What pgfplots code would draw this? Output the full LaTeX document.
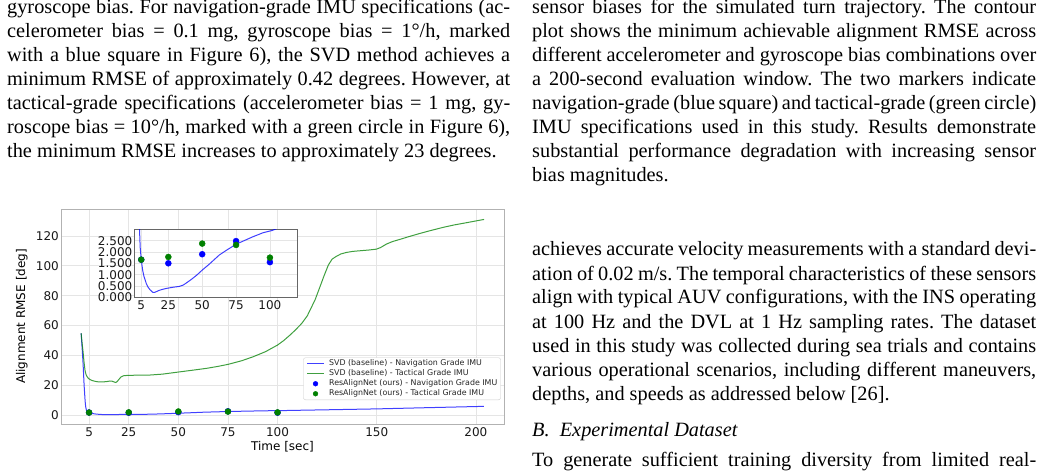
\documentclass[border=0pt]{standalone}
\usepackage{pgfplots}
\pgfplotsset{compat=1.18}
\usepackage{fontspec}
\setmainfont{Liberation Serif}
\newfontfamily\dejavu{DejaVu Sans}
\frenchspacing
\newcommand{\jl}[4]{\node[anchor=base west,inner sep=0pt,font=\fontsize{20.3}{24}\selectfont] at (#1pt,-#2pt) {\makebox[#3pt][s]{#4}};}
\newcommand{\jend}[3]{\node[anchor=base west,inner sep=0pt,font=\fontsize{20.3}{24}\selectfont] at (#1pt,-#2pt) {#3};}
\pgfplotsset{
 lineleg/.style={legend image code/.code={\draw[##1] (0pt,0pt) -- (16.6pt,0pt);}},
 dotleg/.style={legend image code/.code={\draw[mark repeat=2,mark phase=2,##1,mark size=2.4pt] plot coordinates {(0pt,0pt) (8.3pt,0pt) (16.6pt,0pt)};}},
}

\pgfplotstableread{
x y
1 54.8
1.5 45
2 34
2.5 20
3 9.5
3.3 5.5
3.7 3.0
4.2 2.2
5 1.66
6 1.2
7 0.92
8.7 0.61
10 0.45
11.5 0.33
13.5 0.22
15 0.22
16.5 0.26
18 0.3
20 0.34
23.4 0.39
28 0.44
33 0.48
36 0.54
38 0.62
42 0.79
46 0.98
50 1.2
55 1.45
62.5 1.86
68 2.08
75 2.34
81 2.5
87 2.66
95 2.85
101.7 2.95
110 3.15
125 3.5
150 4.1
175 4.9
204 5.8
}\navline

\pgfplotstableread{
x y
1 54.8
1.5 48
2 42
2.5 35
3 29.5
3.5 27
4.2 25.3
5 24.2
6.3 23.2
8 22.6
9.7 22.2
12 22.2
13.9 22.4
15.5 22.8
16.5 22.7
17.5 22.2
18.5 21.8
19.2 22.5
20 23.8
21 25.4
22.3 26.3
24.8 26.6
30 26.7
35.7 26.8
42 27.4
50 28.8
57 30
64.3 31.3
70 32.6
75.2 34
82 36.4
87.8 39.1
94 42.5
100 46.9
103 49.8
106.3 53.6
109 57
112.2 61.4
115 66.5
117.2 72.5
119 77.5
121.4 86
123.5 93.5
125.6 100.5
127.5 104.5
129.8 106.5
132 108
134.8 109
138 109.7
141.5 110.1
146 110.6
149.9 111.2
152 112.3
154.9 114.6
158 116.3
161.6 117.7
166 119.5
171.7 121.7
177 123.6
183.5 125.8
189 127.4
195.2 128.9
200 130.1
204.1 131.1
}\tacline

\pgfplotstableread{
x y
5 1.66
25 1.50
50 1.90
75 2.48
100 1.55
}\navdots

\pgfplotstableread{
x y
5 1.66
25 1.78
50 2.37
75 2.31
100 1.75
}\tacdots

\definecolor{mplgreen}{RGB}{0,128,0}

\begin{document}
\begin{tikzpicture}[x=1pt,y=1pt]
\path[use as bounding box] (0,0) rectangle (1042,-473);
\clip (0,0) rectangle (1042,-473);

% left column text
\jl{7}{14}{503}{gyroscope bias. For navigation-grade IMU specifications (ac-}
\jl{7}{38}{503}{celerometer bias = 0.1 mg, gyroscope bias = 1°/h, marked}
\jl{7}{62}{503}{with a blue square in Figure 6), the SVD method achieves a}
\jl{7}{86}{503}{minimum RMSE of approximately 0.42 degrees. However, at}
\jl{7}{110}{503}{tactical-grade specifications (accelerometer bias = 1 mg, gy-}
\jl{7}{134}{503}{roscope bias = 10°/h, marked with a green circle in Figure 6),}
\jend{7}{158}{the minimum RMSE increases to approximately 23 degrees.}

% right column text
\jl{532}{14}{504}{sensor biases for the simulated turn trajectory. The contour}
\jl{532}{38}{504}{plot shows the minimum achievable alignment RMSE across}
\jl{532}{62}{504}{different accelerometer and gyroscope bias combinations over}
\jl{532}{86}{504}{a 200-second evaluation window. The two markers indicate}
\jl{532}{110}{504}{navigation-grade (blue square) and tactical-grade (green circle)}
\jl{532}{134}{504}{IMU specifications used in this study. Results demonstrate}
\jl{532}{158}{504}{substantial performance degradation with increasing sensor}
\jend{532}{182}{bias magnitudes.}

\jl{532}{256}{504}{achieves accurate velocity measurements with a standard devi-}
\jl{532}{280}{504}{ation of 0.02 m/s. The temporal characteristics of these sensors}
\jl{532}{304}{504}{align with typical AUV configurations, with the INS operating}
\jl{532}{328}{504}{at 100 Hz and the DVL at 1 Hz sampling rates. The dataset}
\jl{532}{352}{504}{used in this study was collected during sea trials and contains}
\jl{532}{376}{504}{various operational scenarios, including different maneuvers,}
\jend{532}{400}{depths, and speeds as addressed below [26].}
\jend{532}{436}{\itshape B.\hspace{0.5em}Experimental Dataset}
\jl{532}{466}{504}{To generate sufficient training diversity from limited real-}

% main axis
\begin{axis}[
  at={(61pt,-424pt)}, anchor=south west,
  scale only axis, width=443pt, height=215pt,
  xmin=-9.15, xmax=214.15, ymin=-6.03, ymax=138.1,
  xtick={5,25,50,75,100,150,200}, ytick={0,20,40,60,80,100,120},
  axis line style={black!30, line width=0.9pt},
  major tick length=0pt,
  grid=major, major grid style={black!10, line width=0.8pt},
  tick label style={font=\dejavu\fontsize{12}{14}\selectfont, text=black!90},
  yticklabel style={inner xsep=2pt},
  /pgf/number format/assume math mode=true,
  xlabel={Time [sec]}, ylabel={Alignment RMSE [deg]},
  label style={font=\dejavu\fontsize{12}{14}\selectfont},
  xlabel style={at={(axis description cs:0.5,-0.1056)}, anchor=center},
  ylabel style={at={(axis description cs:-0.0887,0.5)}, anchor=center},
  legend style={at={(0.9926,0.1116)}, anchor=south east,
    draw=black!20, rounded corners=2pt, fill=white,
    font=\dejavu\fontsize{7.9}{8}\selectfont, text=black!85,
    inner xsep=3.2pt, inner ysep=2.4pt, row sep=2.7pt,
    nodes={inner sep=0pt, text height=5.8pt, text depth=1.5pt},
    /tikz/every odd column/.append style={column sep=4.8pt}},
  legend cell align=left,
]
\addplot[blue, line width=1pt, opacity=0.75, lineleg] table[x=x,y=y] {\navline};
\addlegendentry{SVD (baseline) - Navigation Grade IMU}
\addplot[mplgreen, line width=1pt, opacity=0.75, lineleg] table[x=x,y=y] {\tacline};
\addlegendentry{SVD (baseline) - Tactical Grade IMU}
\addplot[only marks, mark=*, mark size=3pt, blue, mark options={fill=blue, draw=blue}, dotleg] table[x=x,y=y] {\navdots};
\addlegendentry{ResAlignNet (ours) - Navigation Grade IMU}
\addplot[only marks, mark=*, mark size=3pt, mplgreen, mark options={fill=mplgreen, draw=mplgreen}, dotleg] table[x=x,y=y] {\tacdots};
\addlegendentry{ResAlignNet (ours) - Tactical Grade IMU}
\end{axis}

% inset axis
\begin{axis}[
  at={(134.5pt,-297.3pt)}, anchor=south west,
  scale only axis, width=162.5pt, height=68pt,
  xmin=0, xmax=120, ymin=0, ymax=3,
  xtick={5,25,50,75,100}, ytick={0,0.5,1,1.5,2,2.5},
  axis background/.style={fill=white},
  axis line style={black!60, line width=0.9pt},
  major tick length=0pt,
  grid=major, major grid style={black!10, line width=0.8pt},
  tick label style={font=\dejavu\fontsize{12}{14}\selectfont, text=black!90},
  yticklabel style={inner xsep=2pt, /pgf/number format/.cd, fixed, fixed zerofill, precision=3},
  /pgf/number format/assume math mode=true,
]
\addplot[blue, line width=1pt, opacity=0.75] table[x=x,y=y] {\navline};
\addplot[only marks, mark=*, mark size=3pt, blue, mark options={fill=blue, draw=blue}] table[x=x,y=y] {\navdots};
\addplot[only marks, mark=*, mark size=3pt, mplgreen, mark options={fill=mplgreen, draw=mplgreen}] table[x=x,y=y] {\tacdots};
\end{axis}
\end{tikzpicture}
\end{document}
